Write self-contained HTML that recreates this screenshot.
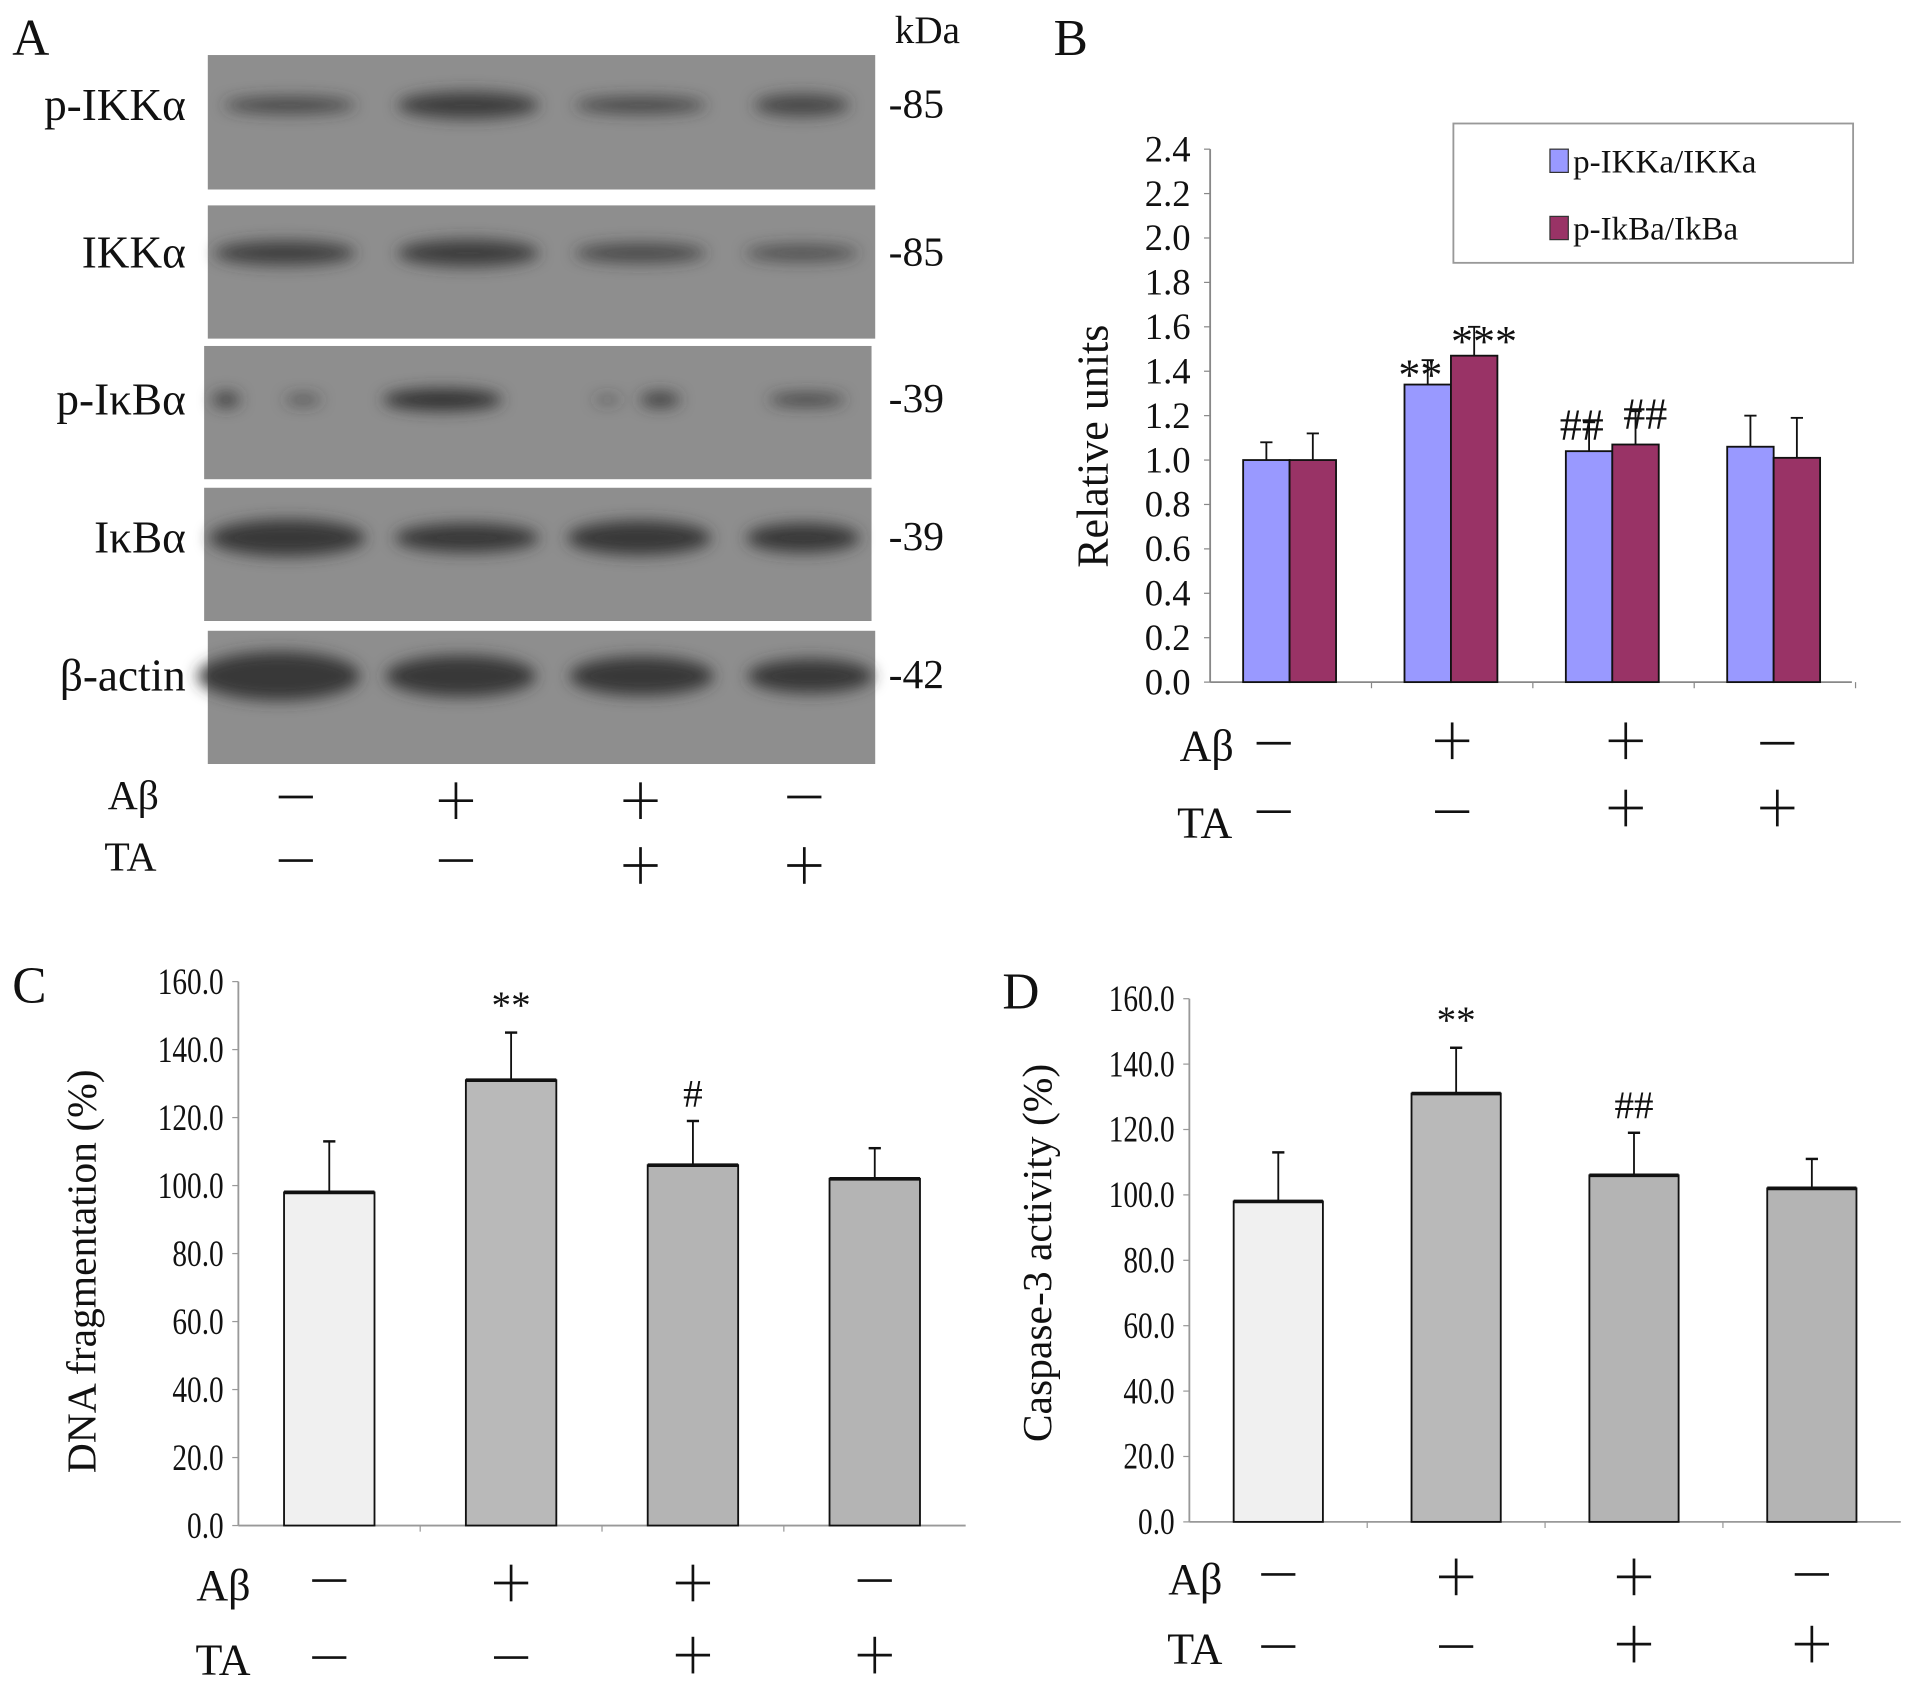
<!DOCTYPE html>
<html><head><meta charset="utf-8"><style>
html,body{margin:0;padding:0;background:#fff}
svg{display:block}
text{font-family:"Liberation Serif",serif;fill:#111}
</style></head><body>
<svg id="fig" width="1913" height="1684" viewBox="0 0 1565 1377.6" xmlns="http://www.w3.org/2000/svg">
<defs>
<filter id="blur" x="-30%" y="-100%" width="160%" height="300%"><feGaussianBlur stdDeviation="6"/></filter>
</defs>
<g id="panelA"></g>
<g id="panelB"></g>
<g id="panelC"></g>
<g id="panelD"></g>
</svg>
<script>
// ---- Panel B data ----
const groupsB = ["ctrl","Abeta","Abeta+TA","TA"];
const ikkVals = [1.00, 1.34, 1.04, 1.06];
const ikkErr  = [0.08, 0.11, 0.13, 0.14];
const ikbVals = [1.00, 1.47, 1.07, 1.01];
const ikbErr  = [0.12, 0.13, 0.15, 0.18];
const ikkMarks = ["", "**", "##", ""];
const ikbMarks = ["", "***", "##", ""];
const ticksB = ["0.0","0.2","0.4","0.6","0.8","1.0","1.2","1.4","1.6","1.8","2.0","2.2","2.4"];
// ---- Panel C / D data ----
const groupsCD = ["ctrl","Abeta","Abeta+TA","TA"];
const dnaVals = [98, 131, 106, 102];
const dnaErr  = [15, 14, 13, 9];
const dnaMarks = ["", "**", "#", ""];
const caspVals = [98, 131, 106, 102];
const caspErr  = [15, 14, 13, 9];
const caspMarks = ["", "**", "##", ""];
const ticksCD = ["0.0","20.0","40.0","60.0","80.0","100.0","120.0","140.0","160.0"];
const abetaSigns = ["-","+","+","-"];
const taSigns = ["-","-","+","+"];

const NS="http://www.w3.org/2000/svg";
function mk(parent,tag,attrs,txt){const e=document.createElementNS(NS,tag);for(const k in attrs)e.setAttribute(k,attrs[k]);if(txt!==undefined)e.textContent=txt;parent.appendChild(e);return e;}
function sign(parent,x,y,s,name){
 const g=mk(parent,'g',{stroke:'#111','stroke-width':2.2});
 
 
 mk(g,'line',{x1:x-14,y1:y,x2:x+14,y2:y});
 if(s==='+')mk(g,'line',{x1:x,y1:y-15,x2:x,y2:y+15});
 mk(g,'text',{x:x,y:y,'font-size':1,'fill-opacity':0,stroke:'none'},s);
}

// ---------- Panel A ----------
(function(){
 const g=document.getElementById('panelA');
 let t=mk(g,'text',{x:10,y:45,'font-size':42},'A');
 
 
 t=mk(g,'text',{x:732,y:35,'font-size':32},'kDa');
 
 
 const rows=[
  {n:'p-IKKα',x:170,y:45,w:546,h:110,kd:'-85',bands:[[237,100,50,14,0.75],[383,108,55,22,0.9],[524,100,48,14,0.75],[656,70,30,18,0.8]],by:86},
  {n:'IKKα',x:170,y:168,w:546,h:109,kd:'-85',bands:[[233,108,55,20,0.85],[383,108,55,22,0.9],[524,100,52,16,0.75],[656,85,40,14,0.65]],by:207},
  {n:'p-IκBα',x:167,y:283,w:546,h:109,kd:'-39',bands:[[185,15,12,12,0.9],[248,22,22,8,0.7],[362,90,45,18,1],[497,15,15,6,0.6],[540,25,28,12,0.9],[660,55,45,10,0.85]],by:327},
  {n:'IκBα',x:167,y:399,w:546,h:109,kd:'-39',bands:[[235,120,60,30,0.95],[382,110,55,24,0.95],[523,110,60,28,0.95],[657,85,50,24,0.95]],by:440},
  {n:'β-actin',x:170,y:516,w:546,h:109,kd:'-42',bands:[[228,125,70,40,0.95],[377,115,60,34,0.95],[525,110,55,32,0.95],[663,95,50,28,0.95]],by:553}
 ];
 rows.forEach((r,i)=>{
  const rr=mk(g,'rect',{x:r.x,y:r.y,width:r.w,height:r.h,fill:'#8e8e8e'});
  
  
  const bg=mk(g,'g',{filter:'url(#blur)'});
  r.bands.forEach(b=>{
   const e=mk(bg,'ellipse',{cx:b[0],cy:r.by,rx:b[1]/2+4,ry:b[3]/2,fill:'#333','fill-opacity':b[4]});
   
   
  });
  const lb=mk(g,'text',{x:152,y:r.by+12,'font-size':37,'text-anchor':'end'},r.n);
  
  
  const kd=mk(g,'text',{x:727,y:r.by+10,'font-size':34},r.kd);
  
  
 });
 const lanes=[242,373,524,658];
 let a=mk(g,'text',{x:130,y:662,'font-size':34,'text-anchor':'end'},'Aβ');
 
 a=mk(g,'text',{x:128,y:712,'font-size':34,'text-anchor':'end'},'TA');
 
 lanes.forEach((x,i)=>{
  sign(g,x,abetaSigns[i]==='+'?655:652,abetaSigns[i],'abeta-sign');
  sign(g,x,taSigns[i]==='+'?708:704,taSigns[i],'ta-sign');
 });
})();

// ---------- Panel B ----------
(function(){
 const g=document.getElementById('panelB');
 const x0=990,x1=1515,yb=558,yt=122,vmax=2.4;
 const y=v=>yb-(v/vmax)*(yb-yt);
 const gw=132,bw=38;
 const gc=i=>1055+i*gw;
 let t=mk(g,'text',{x:862,y:45,'font-size':42},'B');
 
 const ax=mk(g,'line',{x1:x0,y1:yt,x2:x0,y2:yb,stroke:'#888','stroke-width':1.5});
 
 const xa=mk(g,'line',{x1:x0,y1:yb,x2:x1,y2:yb,stroke:'#888','stroke-width':1.5});
 
 ticksB.forEach(s=>{
  const v=parseFloat(s),yy=y(v);
  mk(g,'line',{x1:x0-5,y1:yy,x2:x0,y2:yy,stroke:'#888'});
  const tl=mk(g,'text',{x:x0-16,y:yy+10,'font-size':30,'text-anchor':'end'},s);
  
 });
 for(let i=1;i<=4;i++){mk(g,'line',{x1:x0+i*gw,y1:yb,x2:x0+i*gw,y2:yb+5,stroke:'#888'});}
 const yt2=mk(g,'text',{x:0,y:0,'font-size':36,'text-anchor':'middle',transform:'translate(906,365) rotate(-90)'},'Relative units');
 
 groupsB.forEach((grp,i)=>{
  const c=gc(i);
  [[ikkVals,ikkErr,ikkMarks,'#9999ff',c-bw,'ikk'],[ikbVals,ikbErr,ikbMarks,'#993366',c,'ikb']].forEach(s=>{
   const v=s[0][i],e=s[1][i],bx=s[4];
   const r=mk(g,'rect',{x:bx,y:y(v),width:bw,height:yb-y(v),fill:s[3],stroke:'#111','stroke-width':1.5});
   
   mk(g,'line',{x1:bx+bw/2,y1:y(v),x2:bx+bw/2,y2:y(v+e),stroke:'#111','stroke-width':1.5});
   mk(g,'line',{x1:bx+bw/2-5,y1:y(v+e),x2:bx+bw/2+5,y2:y(v+e),stroke:'#111','stroke-width':1.5});
   if(s[2][i]){const m=mk(g,'text',{x:bx+bw/2+(s[5]==='ikb'?8:-6),y:y(v+e)+(s[2][i][0]==='*'?24:14),'font-size':36,'text-anchor':'middle'},s[2][i]);
    }
  });
 });
 const lg=mk(g,'g',{});
 
 mk(lg,'rect',{x:1189,y:101,width:327,height:114,fill:'#fff',stroke:'#999','stroke-width':1.5});
 [['#9999ff','p-IKKa/IKKa',132],['#993366','p-IkBa/IkBa',187]].forEach(l=>{
  const sw=mk(lg,'rect',{x:1268,y:l[2]-10,width:15,height:19,fill:l[0],stroke:'#333'});
  
  const lt=mk(lg,'text',{x:1287,y:l[2]+9,'font-size':27},l[1]);
  
 });
 let a=mk(g,'text',{x:965,y:622,'font-size':36},'Aβ');
 
 a=mk(g,'text',{x:963,y:685,'font-size':36},'TA');
 
 const sx=[1042,1188,1330,1454];
 sx.forEach((x,i)=>{
  sign(g,x,abetaSigns[i]==='+'?606:608,abetaSigns[i],'abeta-sign');
  sign(g,x,taSigns[i]==='+'?661:664,taSigns[i],'ta-sign');
 });
})();

// ---------- Panels C & D ----------
function cdPanel(id,cfg,vals,errs,marks){
 const g=document.getElementById(id);
 const y=v=>cfg.yb-(v/160)*(cfg.yb-cfg.yt);
 let t=mk(g,'text',{x:cfg.lx,y:cfg.ly,'font-size':42},cfg.letter);
 
 const ax=mk(g,'line',{x1:cfg.x0,y1:cfg.yt,x2:cfg.x0,y2:cfg.yb,stroke:'#999','stroke-width':1.5});
 
 const xa=mk(g,'line',{x1:cfg.x0,y1:cfg.yb,x2:cfg.x1,y2:cfg.yb,stroke:'#999','stroke-width':1.5});
 
 ticksCD.forEach(s=>{
  const v=parseFloat(s),yy=y(v);
  mk(g,'line',{x1:cfg.x0-5,y1:yy,x2:cfg.x0,y2:yy,stroke:'#999'});
  const tl=mk(g,'text',{x:0,y:0,'font-size':30,'text-anchor':'end',transform:`translate(${cfg.x0-12},${yy+10}) scale(0.8,1)`},s);
  
 });
 const gw=(cfg.x1-cfg.x0)/4;
 for(let i=1;i<4;i++)mk(g,'line',{x1:cfg.x0+i*gw,y1:cfg.yb,x2:cfg.x0+i*gw,y2:cfg.yb+5,stroke:'#999'});
 const ttl=mk(g,'text',{x:0,y:0,'font-size':34,'text-anchor':'middle',transform:`translate(${cfg.tx},${cfg.ty}) rotate(-90)`},cfg.title);
 
 const fills=['#f0f0f0','#b9b9b9','#b4b4b4','#b4b4b4'];
 const bw=cfg.bw;
 groupsCD.forEach((grp,i)=>{
  const c=cfg.x0+gw*(i+0.5);
  const v=vals[i],e=errs[i];
  const r=mk(g,'rect',{x:c-bw/2,y:y(v),width:bw,height:cfg.yb-y(v),fill:fills[i],stroke:'#111','stroke-width':1.5});
  
  mk(g,'line',{x1:c-bw/2,y1:y(v),x2:c+bw/2,y2:y(v),stroke:'#111','stroke-width':3});
  mk(g,'line',{x1:c,y1:y(v),x2:c,y2:y(v+e),stroke:'#111','stroke-width':1.5});
  mk(g,'line',{x1:c-5,y1:y(v+e),x2:c+5,y2:y(v+e),stroke:'#111','stroke-width':2});
  if(marks[i]){const m=mk(g,'text',{x:c,y:y(v+e)-12,'font-size':32,'text-anchor':'middle'},marks[i]);
   }
  sign(g,c,abetaSigns[i]==='+'?cfg.ay:cfg.ay-2,abetaSigns[i],'abeta-sign');
  sign(g,c,taSigns[i]==='+'?cfg.ty2:cfg.ty2+2,taSigns[i],'ta-sign');
 });
 let a=mk(g,'text',{x:cfg.rlx,y:cfg.ay+14,'font-size':36,'text-anchor':'end'},'Aβ');
 
 a=mk(g,'text',{x:cfg.rlx,y:cfg.ty2+16,'font-size':36,'text-anchor':'end'},'TA');
 
}
cdPanel('panelC',{x0:195,x1:790,yb:1248,yt:803,bw:74,letter:'C',lx:10,ly:820,tx:78,ty:1040,title:'DNA fragmentation (%)',ay:1295,ty2:1354,rlx:205},dnaVals,dnaErr,dnaMarks);
cdPanel('panelD',{x0:973,x1:1555,yb:1245,yt:817,bw:73,letter:'D',lx:820,ly:825,tx:860,ty:1025,title:'Caspase-3 activity (%)',ay:1290,ty2:1345,rlx:1000},caspVals,caspErr,caspMarks);
</script>
</body></html>
